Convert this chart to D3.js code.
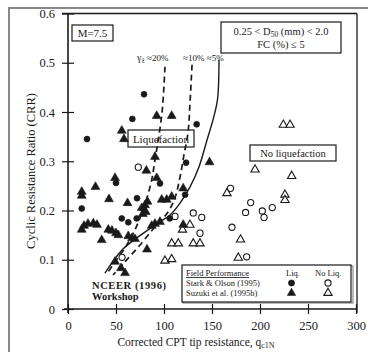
<!DOCTYPE html>
<html><head><meta charset="utf-8">
<script src="https://cdn.jsdelivr.net/npm/d3@7"></script>
<style>
body{margin:0;background:#fff;}
svg{display:block;}
text{font-family:"Liberation Serif","DejaVu Serif",serif;fill:#1a1a1a;}
</style></head>
<body>
<svg id="c" width="368" height="352"></svg>
<script>
// ---- data (q_c1N, CRR) ----
const xTicks = [0, 50, 100, 150, 200, 250, 300];
const yTicks = [0, 0.1, 0.2, 0.3, 0.4, 0.5, 0.6];
const yTickLabels = ["0", "0.1", "0.2", "0.3", "0.4", "0.5", "0.6"];

const starkLiq = [[79.2,0.436],[67,0.386],[19.8,0.345],[134,0.375],[123,0.297],[122,0.232],[106,0.184],[50,0.256],[14.3,0.204],[71.9,0.225],[56,0.184],[62.8,0.176],[71.6,0.184],[95.8,0.255],[79,0.201]];
const suzukiLiq = [[92.4,0.392],[108,0.392],[56,0.362],[58.3,0.345],[90.6,0.309],[81.6,0.281],[92.4,0.266],[147.4,0.298],[120,0.245],[120,0.171],[49,0.266],[28.6,0.248],[14.3,0.238],[14.3,0.230],[42.7,0.223],[62,0.215],[82.8,0.218],[80.2,0.211],[76.8,0.205],[97.6,0.222],[102.8,0.222],[108,0.228],[14.3,0.161],[16.7,0.169],[20.8,0.173],[26.4,0.174],[30.2,0.171],[35.1,0.140],[42,0.161],[45.8,0.159],[50,0.154],[52.4,0.150],[62.8,0.148],[66.7,0.144],[69.8,0.142],[82.3,0.121],[87.2,0.169],[90.6,0.173],[95.8,0.177],[49,0.096],[55.2,0.083],[59.4,0.073],[78,0.193],[81,0.197]];
const starkNoLiq = [[73.2,0.288],[111.5,0.188],[130.5,0.195],[139.3,0.186],[137.5,0.154],[169.3,0.245],[190.3,0.216],[185,0.196],[202.4,0.199],[204.2,0.186],[212.8,0.206],[170.8,0.166],[186.1,0.106],[56.3,0.105]];
const suzukiNoLiq = [[224.3,0.374],[231.3,0.374],[194.8,0.283],[233,0.270],[165.6,0.235],[226,0.232],[226,0.221],[127,0.171],[119.3,0.161],[108,0.133],[114.9,0.133],[130.5,0.133],[137.5,0.133],[179.7,0.141],[177.4,0.104],[101,0.098],[108,0.101]];

const curve5 = [[157.3,0.506],[155.7,0.425],[151,0.384],[144.8,0.343],[136.5,0.289],[127.1,0.248],[116.7,0.215],[106.3,0.191],[95.8,0.177],[77.1,0.152],[56.3,0.120],[38.5,0.073]];
const curve20 = [[101,0.492],[98.2,0.404],[94,0.343],[90.6,0.303],[87.2,0.262],[82.3,0.226],[78.1,0.201],[69.8,0.161],[59.4,0.124],[49,0.096],[41.7,0.075]];
const curve10 = [[129.2,0.496],[127.1,0.419],[125,0.358],[120.8,0.313],[116.7,0.268],[111.5,0.226],[104.2,0.197],[90.6,0.167],[75,0.130],[59.4,0.096],[46.9,0.069]];

// ---- drawing ----
const svg = d3.select("#c");
const ink = "#1a1a1a";
const x = d3.scaleLinear().domain([0,300]).range([68,356]);
const y = d3.scaleLinear().domain([0,0.6]).range([309,13.5]);

// outer image border
svg.append("path").attr("d","M9,352V8H368").attr("fill","none").attr("stroke","#888").attr("stroke-width",2);

// frame
const fr = svg.append("g").attr("stroke",ink).attr("fill","none");
fr.append("line").attr("x1",62).attr("x2",357).attr("y1",y(0.6)).attr("y2",y(0.6)).attr("stroke-width",1.3);
fr.append("line").attr("x1",357).attr("x2",357).attr("y1",y(0.6)).attr("y2",y(0)+4).attr("stroke-width",1.3);
fr.append("line").attr("x1",x(0)).attr("x2",x(0)).attr("y1",y(0.6)).attr("y2",y(0)+4).attr("stroke-width",1.6);
fr.append("line").attr("x1",x(0)-4).attr("x2",357).attr("y1",y(0)).attr("y2",y(0)).attr("stroke-width",1.6);

// axes
const ax = d3.axisLeft(y).tickValues(yTicks).tickFormat((d,i)=>yTickLabels[i]).tickSize(6).tickPadding(7);
const gy = svg.append("g").attr("transform",`translate(${x(0)},0)`).call(ax);
gy.select(".domain").remove();
gy.selectAll(".tick line").attr("x1",-6).attr("x2",6).attr("stroke",ink).attr("stroke-width",1.2);
gy.selectAll(".tick text").attr("font-size",12.5).attr("font-family","Liberation Serif").attr("fill",ink);

const axb = d3.axisBottom(x).tickValues(xTicks).tickSize(5).tickPadding(7);
const gx = svg.append("g").attr("transform",`translate(0,${y(0)})`).call(axb);
gx.select(".domain").remove();
gx.selectAll(".tick line").attr("y1",-5).attr("y2",5).attr("stroke",ink).attr("stroke-width",1.2);
gx.selectAll(".tick text").attr("font-size",12.5).attr("font-family","Liberation Serif").attr("fill",ink);

// axis titles
svg.append("text").attr("transform","translate(35,171) rotate(-90)").attr("text-anchor","middle")
  .attr("font-size",12.5).text("Cyclic Resistance Ratio (CRR)");
const xt = svg.append("text").attr("x",196).attr("y",346).attr("text-anchor","middle").attr("font-size",11.5);
xt.append("tspan").text("Corrected CPT tip resistance, q");
xt.append("tspan").attr("font-size",8).attr("dy",2).text("c1N");

// boxes with text
function box(x0,y0,w,h,fill){
  svg.append("rect").attr("x",x0).attr("y",y0).attr("width",w).attr("height",h)
    .attr("fill",fill||"#fff").attr("stroke",ink).attr("stroke-width",1.2);
}
// Liquefaction box sits under the curves
box(128,130,66,17);
svg.append("text").attr("x",161).attr("y",142.5).attr("text-anchor","middle").attr("font-size",11).text("Liquefaction");

// curves
const line = d3.line().x(d=>x(d[0])).y(d=>y(d[1])).curve(d3.curveCatmullRom);
svg.append("path").attr("d",line(curve5)).attr("fill","none").attr("stroke",ink).attr("stroke-width",1.4);
svg.append("path").attr("d",line(curve20)).attr("fill","none").attr("stroke",ink).attr("stroke-width",1.7).attr("stroke-dasharray","6,4");
svg.append("path").attr("d",line(curve10)).attr("fill","none").attr("stroke",ink).attr("stroke-width",1.7).attr("stroke-dasharray","6,4");

// curve labels
const gl = svg.append("text").attr("x",137).attr("y",61).attr("font-size",10);
gl.append("tspan").text("γ");
gl.append("tspan").attr("font-size",7).attr("dy",2).text("ℓ");
gl.append("tspan").attr("dy",-2).attr("font-size",9).text(" ≈20% ");
svg.append("text").attr("x",183).attr("y",61).attr("font-size",9).text("≈10% ≈5%");

// markers
const sym = (type, size) => d3.symbol().type(type).size(size)();
function drawPts(data, type, size, filled){
  svg.append("g").selectAll("path").data(data).join("path")
    .attr("transform",d=>`translate(${x(d[0])},${y(d[1])})`)
    .attr("d",sym(type,size))
    .attr("fill",filled?ink:"#fff").attr("stroke",ink).attr("stroke-width",filled?0.6:1.1);
}
drawPts(starkNoLiq, d3.symbolCircle, 30, false);
drawPts(suzukiNoLiq, d3.symbolTriangle, 30, false);
drawPts(starkLiq, d3.symbolCircle, 28, true);
drawPts(suzukiLiq, d3.symbolTriangle, 34, true);

box(72,25,41,16);
svg.append("text").attr("x",92.5).attr("y",37).attr("text-anchor","middle").attr("font-size",11).text("M=7.5");

box(221,22,120,31);
const t1 = svg.append("text").attr("x",281).attr("y",35).attr("text-anchor","middle").attr("font-size",10.5);
t1.append("tspan").text("0.25 < D");
t1.append("tspan").attr("font-size",7.5).attr("dy",2).text("50");
t1.append("tspan").attr("dy",-2).text(" (mm) < 2.0");
svg.append("text").attr("x",281).attr("y",48).attr("text-anchor","middle").attr("font-size",10.5).text("FC (%) ≤ 5");

box(250,145,86,16);
svg.append("text").attr("x",293).attr("y",157).attr("text-anchor","middle").attr("font-size",10.5).text("No liquefaction");

// NCEER label
svg.append("text").attr("x",92).attr("y",289).attr("font-size",10.5).attr("font-weight","bold").attr("letter-spacing",0.6).text("NCEER  (1996)");
svg.append("text").attr("x",92).attr("y",300).attr("font-size",10.5).attr("font-weight","bold").text("Workshop");

// legend
svg.append("rect").attr("x",183).attr("y",266).attr("width",170).attr("height",37).attr("fill","none").attr("stroke","#777").attr("stroke-width",1);
box(182,265,169,37);
svg.append("text").attr("x",186).attr("y",276).attr("font-size",8.5).attr("text-decoration","underline").text("Field Performance");
svg.append("text").attr("x",286).attr("y",276).attr("font-size",8.5).text("Liq.");
svg.append("text").attr("x",315).attr("y",276).attr("font-size",8.5).text("No Liq.");
svg.append("text").attr("x",186).attr("y",286).attr("font-size",8.5).text("Stark & Olson (1995)");
svg.append("text").attr("x",186).attr("y",296).attr("font-size",8.5).text("Suzuki et al. (1995b)");
const lg = [[291.5,283,d3.symbolCircle,true],[328,283,d3.symbolCircle,false],[291.5,293,d3.symbolTriangle,true],[328,293,d3.symbolTriangle,false]];
svg.append("g").selectAll("path").data(lg).join("path")
  .attr("transform",d=>`translate(${d[0]},${d[1]})`)
  .attr("d",d=>sym(d[2],30))
  .attr("fill",d=>d[3]?ink:"#fff").attr("stroke",ink).attr("stroke-width",d=>d[3]?0.6:1.1);
</script>
</body></html>
